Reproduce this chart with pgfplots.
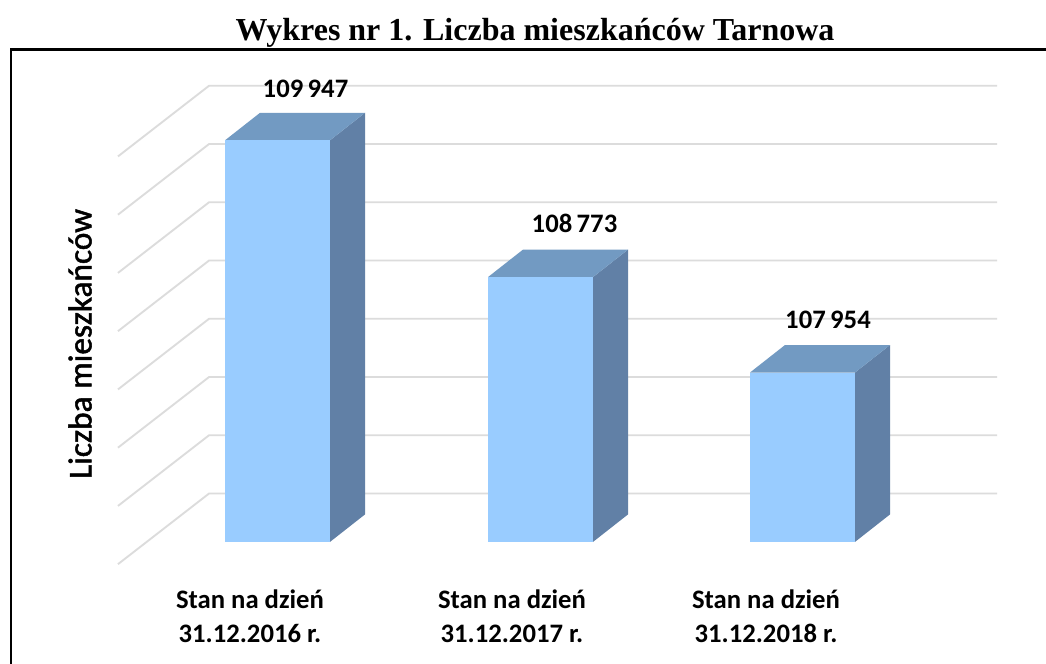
\documentclass[border=0pt]{standalone}
\usepackage{fontspec}
\setmainfont{Carlito}
\newfontfamily\titlefont{Liberation Serif}
\newfontfamily\ylabfont[FakeBold=1.5]{Carlito}
\usepackage{pgfplots}
\pgfplotsset{compat=1.18}

\definecolor{barfront}{RGB}{153,204,255}
\definecolor{bartop}{RGB}{114,154,194}
\definecolor{barside}{RGB}{97,128,166}
\definecolor{gridgray}{RGB}{220,220,220}

\begin{document}
\begin{tikzpicture}
\begin{axis}[
    scale only axis,
    width=784.5pt, height=498pt,
    xmin=0, xmax=1046,
    ymin=105452, ymax=111151.6,
    axis lines=none,
    axis background/.style={fill=white},
    wall/.style={gridgray, line width=1.4pt, mark=none},
    every axis plot/.append style={mark=none},
]
% frame
\addplot[black, line width=2.2pt] coordinates {(11,105452) (11,110723) (1046,110723)};

% gridlines, side wall then back wall
\addplot[wall] coordinates {(118,106309) (209,106915) (997,106915)};
\addplot[wall] coordinates {(118,106809) (209,107415) (997,107415)};
\addplot[wall] coordinates {(118,107309) (209,107915) (997,107915)};
\addplot[wall] coordinates {(118,107809) (209,108415) (997,108415)};
\addplot[wall] coordinates {(118,108309) (209,108915) (997,108915)};
\addplot[wall] coordinates {(118,108809) (209,109415) (997,109415)};
\addplot[wall] coordinates {(118,109309) (209,109915) (997,109915)};
\addplot[wall] coordinates {(118,109809) (209,110415) (997,110415)};

% 2016
\addplot[fill=barside, draw=none] coordinates {(330,106500) (365,106736) (365,110183) (330,109947)} -- cycle;
\addplot[fill=bartop, draw=none] coordinates {(225,109947) (330,109947) (365,110183) (260,110183)} -- cycle;
\addplot[fill=barfront, draw=none] coordinates {(225,106500) (330,106500) (330,109947) (225,109947)} -- cycle;
% 2017
\addplot[fill=barside, draw=none] coordinates {(593,106500) (628,106736) (628,109009) (593,108773)} -- cycle;
\addplot[fill=bartop, draw=none] coordinates {(488,108773) (593,108773) (628,109009) (523,109009)} -- cycle;
\addplot[fill=barfront, draw=none] coordinates {(488,106500) (593,106500) (593,108773) (488,108773)} -- cycle;
% 2018
\addplot[fill=barside, draw=none] coordinates {(855,106500) (890,106736) (890,108190) (855,107954)} -- cycle;
\addplot[fill=bartop, draw=none] coordinates {(750,107954) (855,107954) (890,108190) (785,108190)} -- cycle;
\addplot[fill=barfront, draw=none] coordinates {(750,106500) (855,106500) (855,107954) (750,107954)} -- cycle;

% value labels
\node[inner sep=0pt, font=\fontsize{20}{24}\selectfont\bfseries] at (axis cs:305.5,110388) {109\,947};
\node[inner sep=0pt, font=\fontsize{20}{24}\selectfont\bfseries] at (axis cs:574.5,109230) {108\,773};
\node[inner sep=0pt, font=\fontsize{20}{24}\selectfont\bfseries] at (axis cs:828,108406) {107\,954};

% category labels
\node[inner sep=0pt, align=center, font=\fontsize{20}{25.5}\selectfont\bfseries] at (axis cs:250,105865) {Stan na dzień\\31.12.2016 r.};
\node[inner sep=0pt, align=center, font=\fontsize{20}{25.5}\selectfont\bfseries] at (axis cs:512,105865) {Stan na dzień\\31.12.2017 r.};
\node[inner sep=0pt, align=center, font=\fontsize{20}{25.5}\selectfont\bfseries] at (axis cs:766,105865) {Stan na dzień\\31.12.2018 r.};

% axis title and chart title
\node[inner sep=0pt, rotate=90, font=\fontsize{25}{29}\selectfont\ylabfont] at (axis cs:80,108200) {Liczba mieszkańców};
\node[inner sep=0pt, font=\fontsize{24}{28}\selectfont\titlefont\bfseries] at (axis cs:535,110868) {Wykres nr 1. Liczba mieszkańców Tarnowa};
\end{axis}
\end{tikzpicture}
\end{document}
